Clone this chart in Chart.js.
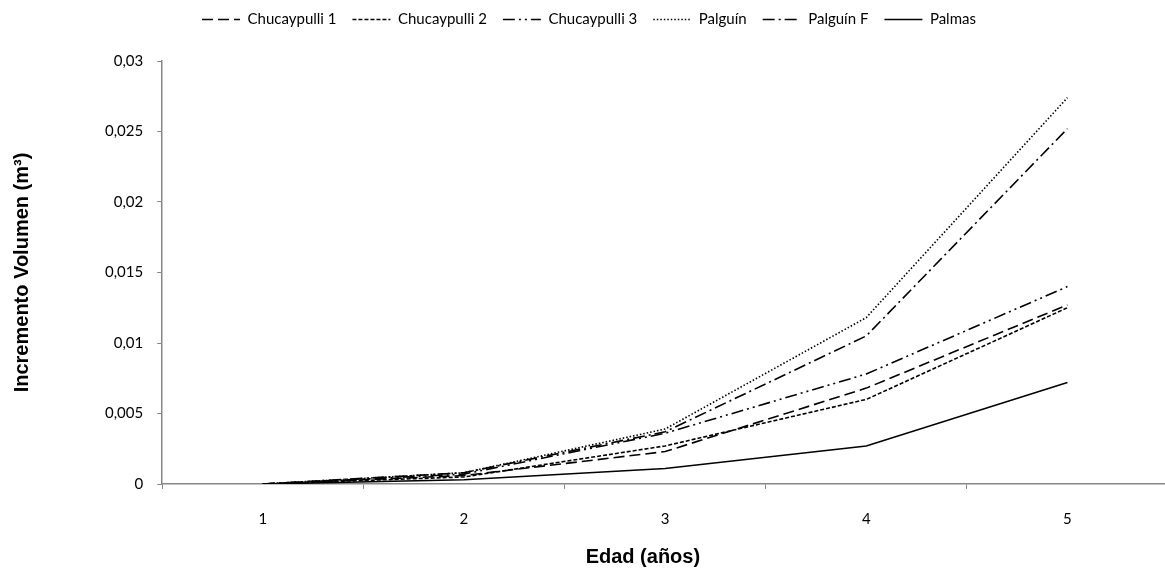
<!DOCTYPE html>
<html>
<head>
<meta charset="utf-8">
<script src="https://cdn.jsdelivr.net/npm/chart.js@4.4.1/dist/chart.umd.min.js"></script>
<style>
  html, body { margin: 0; padding: 0; background: #fff; overflow: hidden; }
  #wrap { width: 1168px; height: 572px; }
</style>
</head>
<body>
<div id="wrap"><canvas id="c" width="1168" height="572"></canvas></div>
<script>
// Edad (años)
const edades = ['1', '2', '3', '4', '5'];

// Incremento de volumen por procedencia (m³)
const chucaypulli1 = [0, 0.0006, 0.0023, 0.0068, 0.0127];
const chucaypulli2 = [0, 0.0005, 0.0027, 0.0060, 0.0125];
const chucaypulli3 = [0, 0.0007, 0.0036, 0.0078, 0.0140];
const palguin      = [0, 0.0008, 0.0039, 0.0118, 0.0274];
const palguinF     = [0, 0.0008, 0.0037, 0.0105, 0.0252];
const palmas       = [0, 0.0003, 0.0011, 0.0027, 0.0072];

const yTicks = [0, 0.005, 0.01, 0.015, 0.02, 0.025, 0.03];

const axisGrey = '#878787';
const tickFont = { family: 'Lato, "Open Sans", sans-serif', size: 15 };
const titleFont = { family: '"Liberation Sans", Arial, sans-serif', size: 20, weight: 'bold' };

function serie(label, data, dash) {
  return {
    label, data,
    borderColor: '#000', backgroundColor: '#000',
    borderWidth: 1.6, borderDash: dash,
    pointRadius: 0, pointHoverRadius: 0,
    tension: 0, fill: false
  };
}

// Leave room between the legend row and the plot
const legendSpace = {
  id: 'legendSpace',
  beforeInit(chart) {
    const legend = chart.legend;
    const fit = legend.fit;
    legend.fit = function () {
      fit.call(this);
      this.height = 65;
    };
  }
};

// trailing no-break spaces nudge the centred x title a little to the left
const xTitle = 'Edad (años)' + '\u00a0'.repeat(8);

new Chart(document.getElementById('c'), {
  type: 'line',
  data: {
    labels: edades,
    datasets: [
      serie('Chucaypulli 1', chucaypulli1, [11, 5]),
      serie('Chucaypulli 2', chucaypulli2, [4, 2]),
      serie('Chucaypulli 3', chucaypulli3, [12, 4, 2, 4, 2, 4]),
      serie('Palguín', palguin, [1.5, 2]),
      serie('Palguín F', palguinF, [12, 4, 2, 4]),
      serie('Palmas', palmas, [])
    ]
  },
  plugins: [legendSpace],
  options: {
    responsive: false,
    animation: false,
    layout: { padding: { left: 10, right: 0, top: -4, bottom: 3 } },
    plugins: {
      tooltip: { enabled: false },
      legend: {
        position: 'top',
        align: 'center',
        labels: {
          color: '#000',
          font: tickFont,
          usePointStyle: true,
          pointStyle: 'line',
          pointStyleWidth: 38,
          padding: 16,
          generateLabels(chart) {
            return chart.data.datasets.map((ds, i) => ({
              text: ds.label,
              datasetIndex: i,
              fillStyle: '#000',
              strokeStyle: '#000',
              fontColor: '#000',
              lineWidth: 1.6,
              lineDash: ds.borderDash,
              pointStyle: 'line',
              hidden: !chart.isDatasetVisible(i)
            }));
          }
        }
      }
    },
    scales: {
      x: {
        type: 'category',
        offset: true,
        grid: {
          display: true, offset: true, drawOnChartArea: false,
          tickLength: 5, color: axisGrey, lineWidth: 1
        },
        border: { color: axisGrey, width: 1.5 },
        ticks: { color: '#000', font: tickFont, padding: 21 },
        title: {
          display: true, text: xTitle, color: '#000',
          font: titleFont, padding: { top: -4, bottom: 0 }
        }
      },
      y: {
        min: 0, max: 0.03,
        afterBuildTicks: (scale) => { scale.ticks = yTicks.map(v => ({ value: v })); },
        grid: {
          display: true, drawOnChartArea: false,
          tickLength: 5, color: axisGrey, lineWidth: 1
        },
        border: { color: axisGrey, width: 1.5 },
        ticks: {
          color: '#000', font: tickFont, padding: 14,
          callback: (v) => Number(v.toFixed(3)).toString().replace('.', ',')
        },
        title: {
          display: true, text: 'Incremento Volumen (m³)', color: '#000',
          font: titleFont, padding: { top: 0, bottom: 57 }
        }
      }
    }
  }
});
</script>
</body>
</html>
